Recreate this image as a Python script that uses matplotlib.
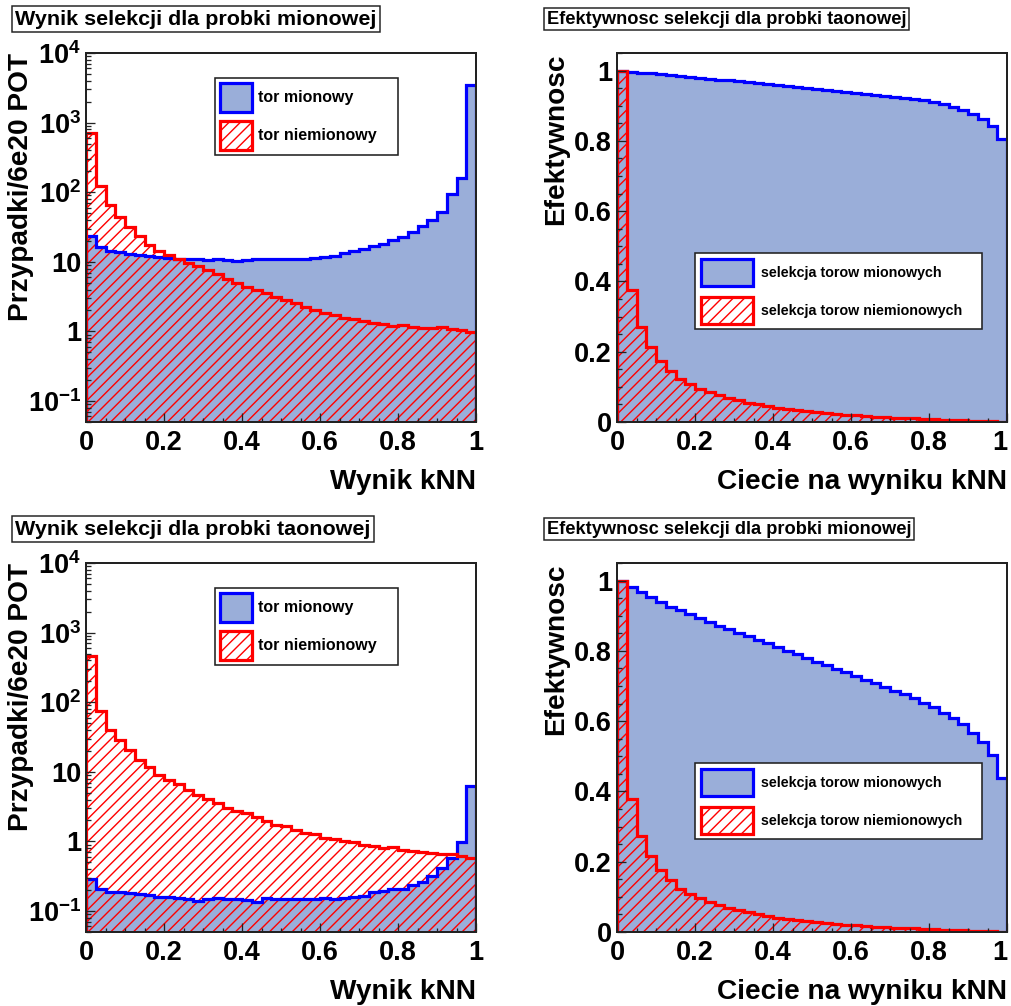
import matplotlib
matplotlib.use('Agg')
import matplotlib.pyplot as plt
from matplotlib.patches import Patch
from matplotlib.ticker import MultipleLocator, LogLocator, FuncFormatter, NullFormatter
import numpy as np

DPI = 136


def px(v):
    # pixel size -> points at the output dpi
    return v * 72.0 / DPI


plt.rcParams['font.family'] = ['Liberation Sans', 'DejaVu Sans']
plt.rcParams['font.weight'] = 'bold'
plt.rcParams['mathtext.fontset'] = 'custom'
plt.rcParams['mathtext.rm'] = 'Liberation Sans:bold'
plt.rcParams['mathtext.bf'] = 'Liberation Sans:bold'
plt.rcParams['mathtext.it'] = 'Liberation Sans:bold:italic'
plt.rcParams['hatch.linewidth'] = px(1.4)

# 40 bins in kNN output
edges = np.linspace(0.0, 1.0, 41)

# kNN output, muon sample (events / 6e20 POT)
mu_sample_muon = [23.3, 16.2, 14.2, 13.9, 13.0, 12.4, 12.0, 11.6, 11.3, 11.0,
                  10.8, 10.8, 10.5, 10.8, 10.5, 10.2, 10.5, 10.8, 11.0, 11.0,
                  11.1, 11.1, 11.1, 11.4, 11.8, 12.3, 13.2, 14.2, 15.4, 16.7,
                  18.3, 20.4, 22.8, 26.6, 32.4, 40.5, 52.0, 95.0, 160.0, 3500.0]
mu_sample_other = [710.0, 122.0, 65.0, 43.7, 31.8, 23.3, 17.7, 14.5, 12.4, 10.8,
                   9.7, 8.65, 7.6, 6.6, 5.7, 5.0, 4.37, 4.0, 3.59, 3.14,
                   2.82, 2.58, 2.26, 2.02, 1.81, 1.75, 1.57, 1.52, 1.41, 1.33,
                   1.26, 1.19, 1.22, 1.17, 1.13, 1.12, 1.17, 1.09, 1.04, 0.99]

# kNN output, tau sample
tau_sample_muon = [0.29, 0.205, 0.187, 0.19, 0.18, 0.176, 0.168, 0.161, 0.161, 0.155,
                   0.15, 0.139, 0.15, 0.155, 0.15, 0.147, 0.143, 0.134, 0.155, 0.15,
                   0.147, 0.15, 0.15, 0.147, 0.155, 0.147, 0.155, 0.161, 0.164, 0.187,
                   0.194, 0.205, 0.205, 0.234, 0.261, 0.318, 0.42, 0.58, 0.98, 6.36]
tau_sample_other = [456.0, 74.0, 40.5, 29.0, 20.9, 15.0, 11.8, 9.1, 7.6, 6.6,
                    5.57, 4.72, 4.1, 3.59, 3.04, 2.72, 2.52, 2.26, 1.96, 1.75,
                    1.66, 1.46, 1.33, 1.26, 1.13, 1.07, 1.01, 0.97, 0.88, 0.85,
                    0.80, 0.82, 0.76, 0.73, 0.71, 0.69, 0.66, 0.67, 0.62, 0.58]

# selection efficiency vs cut on kNN output, tau sample
eff_tau_muon = [1.0, 0.997, 0.994, 0.992, 0.989, 0.987, 0.984, 0.982, 0.979, 0.977,
                0.974, 0.972, 0.969, 0.967, 0.964, 0.962, 0.959, 0.956, 0.953, 0.951,
                0.948, 0.945, 0.942, 0.939, 0.936, 0.933, 0.930, 0.927, 0.924, 0.922,
                0.919, 0.915, 0.910, 0.904, 0.897, 0.888, 0.876, 0.861, 0.842, 0.804]
eff_tau_other = [1.0, 0.377, 0.271, 0.214, 0.174, 0.145, 0.123, 0.109, 0.095, 0.085,
                 0.076, 0.068, 0.062, 0.055, 0.050, 0.045, 0.041, 0.037, 0.033, 0.030,
                 0.028, 0.025, 0.023, 0.021, 0.019, 0.017, 0.015, 0.014, 0.012, 0.011,
                 0.010, 0.009, 0.008, 0.007, 0.006, 0.005, 0.004, 0.003, 0.002, 0.001]

# selection efficiency vs cut on kNN output, muon sample
eff_mu_muon = [1.0, 0.981, 0.967, 0.952, 0.940, 0.926, 0.915, 0.904, 0.893, 0.882,
               0.871, 0.861, 0.852, 0.842, 0.831, 0.821, 0.810, 0.801, 0.790, 0.781,
               0.769, 0.760, 0.748, 0.739, 0.728, 0.717, 0.708, 0.696, 0.686, 0.676,
               0.665, 0.652, 0.639, 0.624, 0.610, 0.591, 0.567, 0.541, 0.505, 0.437]
eff_mu_other = [1.0, 0.379, 0.273, 0.216, 0.176, 0.147, 0.123, 0.109, 0.096, 0.086,
                0.077, 0.069, 0.062, 0.056, 0.050, 0.045, 0.041, 0.037, 0.034, 0.031,
                0.028, 0.025, 0.023, 0.021, 0.019, 0.017, 0.015, 0.014, 0.012, 0.011,
                0.010, 0.009, 0.008, 0.007, 0.006, 0.005, 0.004, 0.003, 0.002, 0.001]

FILL_BLUE = '#9aaed9'
LINE_W = px(3.2)
HATCH = '////'

W, H = 1011, 1006
fig = plt.figure(figsize=((W + 0.01) / DPI, (H + 0.01) / DPI), dpi=DPI)
fig.patch.set_facecolor('white')


def axes_at(x0, y0, x1, y1):
    # pixel box (top-left origin) -> figure axes
    return fig.add_axes([x0 / W, 1 - y1 / H, (x1 - x0) / W, (y1 - y0) / H])


def style_axes(ax):
    for s in ax.spines.values():
        s.set_linewidth(px(2))
        s.set_color('#222222')
    ax.tick_params(which='both', direction='in', top=False, right=False,
                   width=px(1.3), color='#222222', labelsize=px(27))
    ax.tick_params(which='major', length=px(9))
    ax.tick_params(which='minor', length=px(4.5))
    ax.tick_params(axis='x', pad=px(8))
    ax.tick_params(axis='y', pad=px(5))
    ax.set_xlim(0, 1)
    ax.xaxis.set_major_locator(MultipleLocator(0.2))
    ax.xaxis.set_minor_locator(MultipleLocator(0.05))
    ax.xaxis.set_major_formatter(FuncFormatter(lambda v, p: '%g' % round(v, 3)))


def root_log(v, pos):
    e = int(round(np.log10(v)))
    if e == 0:
        return '1'
    if e == 1:
        return '10'
    return r'$\mathregular{10^{%d}}$' % e


def draw_pair(ax, muon, other, base):
    ax.stairs(muon, edges, baseline=base, fill=True, facecolor=FILL_BLUE,
              edgecolor='none', linewidth=0)
    ax.stairs(other, edges, baseline=base, fill=True, facecolor='none',
              edgecolor='red', hatch=HATCH, linewidth=0)
    ax.stairs(muon, edges, baseline=base, fill=False, edgecolor='blue',
              linewidth=LINE_W)
    ax.stairs(other, edges, baseline=base, fill=False, edgecolor='red',
              linewidth=LINE_W)


def add_legend(ax, labels, bbox, fs, hl, hh, spacing, textpad, pad):
    handles = [Patch(facecolor=FILL_BLUE, edgecolor='blue', linewidth=LINE_W),
               Patch(facecolor='white', edgecolor='red', hatch=HATCH, linewidth=LINE_W)]
    leg = ax.legend(handles, labels, loc='upper left', bbox_to_anchor=bbox,
                    mode='expand', borderaxespad=0, fancybox=False, framealpha=1,
                    edgecolor='#222222', prop={'size': px(fs), 'weight': 'bold'},
                    handlelength=hl, handleheight=hh, labelspacing=spacing,
                    handletextpad=textpad, borderpad=pad)
    leg.get_frame().set_linewidth(px(1.6))


def title_box(x, y, text, fs):
    fig.text(x / W, 1 - y / H, text, ha='left', va='center', fontsize=px(fs),
             fontweight='bold',
             bbox=dict(boxstyle='square,pad=0.15', facecolor='white',
                       edgecolor='#222222', linewidth=px(1.5)))


right_axes = []

# kNN output histograms (log scale)
for row, (muon, other, title) in enumerate([
        (mu_sample_muon, mu_sample_other, 'Wynik selekcji dla probki mionowej'),
        (tau_sample_muon, tau_sample_other, 'Wynik selekcji dla probki taonowej')]):
    dy = 510 * row
    ax = axes_at(86, 53 + dy, 476, 422 + dy)
    style_axes(ax)
    ax.set_yscale('log')
    ax.set_ylim(0.05, 1e4)
    draw_pair(ax, muon, other, 1e-3)
    ax.yaxis.set_major_locator(LogLocator(base=10, numticks=10))
    ax.yaxis.set_minor_locator(LogLocator(base=10, subs=np.arange(2, 10), numticks=20))
    ax.yaxis.set_major_formatter(FuncFormatter(root_log))
    ax.yaxis.set_minor_formatter(NullFormatter())
    ax.set_ylabel('Przypadki/6e20 POT', loc='top', fontsize=px(28), fontweight='bold')
    ax.yaxis.set_label_coords(-0.133, 1.0)
    ax.set_xlabel('Wynik kNN', loc='right', fontsize=px(28), fontweight='bold')
    ax.xaxis.set_label_coords(1.0, -0.127)
    add_legend(ax, ['tor mionowy', 'tor niemionowy'], (0.331, 0.0, 0.469, 0.932),
               16, 2.0, 2.41, 0.56, 0.37, 0.3)
    title_box(15, 19 + dy, title, 21.5)

# efficiency vs cut (linear scale)
for row, (muon, other, title) in enumerate([
        (eff_tau_muon, eff_tau_other, 'Efektywnosc selekcji dla probki taonowej'),
        (eff_mu_muon, eff_mu_other, 'Efektywnosc selekcji dla probki mionowej')]):
    dy = 510 * row
    ax = axes_at(617, 53 + dy, 1007, 422 + dy)
    style_axes(ax)
    ax.set_ylim(0, 1.05)
    draw_pair(ax, muon, other, 0)
    ax.yaxis.set_major_locator(MultipleLocator(0.2))
    ax.yaxis.set_minor_locator(MultipleLocator(0.05))
    ax.yaxis.set_major_formatter(FuncFormatter(lambda v, p: '%g' % round(v, 3)))
    ax.set_ylabel('Efektywnosc', loc='top', fontsize=px(28), fontweight='bold')
    ax.yaxis.set_label_coords(-0.123, 1.0)
    ax.set_xlabel('Ciecie na wyniku kNN', loc='right', fontsize=px(28), fontweight='bold')
    ax.xaxis.set_label_coords(1.0, -0.127)
    add_legend(ax, ['selekcja torow mionowych', 'selekcja torow niemionowych'],
               (0.2, 0.0, 0.736, 0.458), 14.3, 3.64, 2.53, 0.77, 0.56, 0.4)
    title_box(547, 19 + dy, title, 18.3)
    right_axes.append(ax)

# the "1" at the right end of the right-hand axes sits against the canvas edge:
# anchor it by its right side so it stays on the canvas
fig.canvas.draw()
for ax in right_axes:
    for tick in ax.xaxis.get_major_ticks():
        if abs(tick.get_loc() - 1.0) < 1e-9:
            tick.label1.set_horizontalalignment('right')
            tick.label1.set_x(1.0)

fig.savefig('out.png', dpi=DPI, facecolor='white')
